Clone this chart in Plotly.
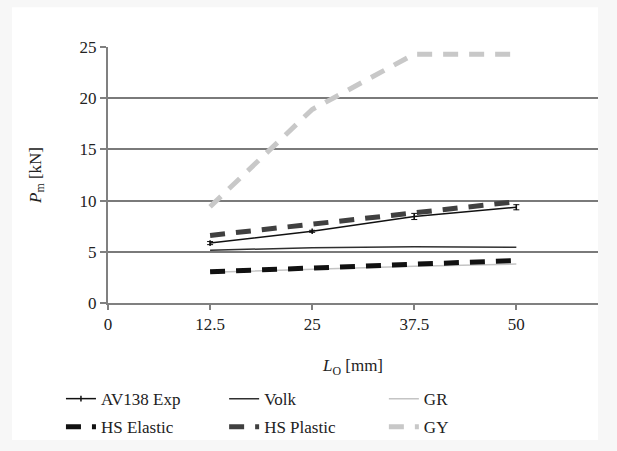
import plotly.graph_objects as go

lo = [12.5, 25, 37.5, 50]
av138 = [5.85, 7.0, 8.45, 9.35]
av138_err = [0.15, 0.1, 0.3, 0.25]
volk = [5.15, 5.4, 5.5, 5.45]
gr = [3.0, 3.3, 3.6, 3.8]
hs_elastic = [3.05, 3.45, 3.8, 4.15]
hs_plastic = [6.6, 7.7, 8.8, 9.9]
gy = [9.4, 18.9, 24.3, 24.3]

x_ticks = [0, 12.5, 25, 37.5, 50]
x_labels = ["0", "12.5", "25", "37.5", "50"]
y_ticks = [0, 5, 10, 15, 20, 25]

FONT = "Liberation Serif"
fig = go.Figure()

fig.add_trace(go.Scatter(x=lo, y=gy, name="GY", mode="lines",
    line=dict(color="#c8c8c8", width=5, dash="15px,11px"), legend="legend3"))
fig.add_trace(go.Scatter(x=lo, y=gr, name="GR", mode="lines",
    line=dict(color="#c4c4c4", width=1.5), legend="legend3"))
fig.add_trace(go.Scatter(x=lo, y=volk, name="Volk", mode="lines",
    line=dict(color="#303030", width=1.5), legend="legend2"))
fig.add_trace(go.Scatter(x=lo, y=hs_plastic, name="HS Plastic", mode="lines",
    line=dict(color="#404040", width=5, dash="15px,11px"), legend="legend2"))
fig.add_trace(go.Scatter(x=lo, y=hs_elastic, name="HS Elastic", mode="lines",
    line=dict(color="#111111", width=5, dash="15px,11px"), legend="legend"))
fig.add_trace(go.Scatter(x=lo, y=av138, name="AV138 Exp", mode="lines+markers",
    line=dict(color="#111111", width=1.5),
    marker=dict(symbol="line-ns", size=4, color="#111111", line=dict(width=1.5, color="#111111")),
    error_y=dict(type="data", array=av138_err, visible=True, color="#111111", thickness=1, width=3),
    legend="legend"))

order = {"AV138 Exp": 1, "HS Elastic": 2, "Volk": 1, "HS Plastic": 2, "GR": 1, "GY": 2}
for tr in fig.data:
    tr.legendrank = order[tr.name]
    tr.legendgroup = tr.name

legend_common = dict(orientation="v", font=dict(family=FONT, size=17, color="#222"),
                     bgcolor="rgba(0,0,0,0)", xanchor="left", yanchor="top",
                     tracegroupgap=3, itemwidth=30, y=-0.305, yref="paper")
fig.update_layout(
    legend=dict(x=-0.096, **legend_common),
    legend2=dict(x=0.237, **legend_common),
    legend3=dict(x=0.563, **legend_common),
)

fig.update_layout(
    width=617, height=451,
    margin=dict(l=108, r=19, t=47, b=148, autoexpand=False),
    paper_bgcolor="#f7f7f7",
    plot_bgcolor="white",
    font=dict(family=FONT, size=17, color="#222"),
    showlegend=True,
    shapes=[dict(type="rect", xref="paper", yref="paper", x0=-0.196, x1=1.0,
                 y0=-0.535, y1=1.155, fillcolor="white", line=dict(width=0), layer="below")],
)
fig.update_xaxes(range=[0, 60], tickvals=x_ticks, ticktext=x_labels,
                 showgrid=False, zeroline=False, showline=True, linecolor="#808080", linewidth=2,
                 ticks="outside", ticklen=5, tickcolor="#808080", tickwidth=1.5,
                 title=dict(text="<i>L</i><sub>O</sub> [mm]", standoff=26,
                            font=dict(family=FONT, size=17)))
fig.update_yaxes(range=[0, 25], tickvals=y_ticks,
                 showgrid=True, gridcolor="#7a7a7a", gridwidth=1.5, zeroline=False,
                 showline=True, linecolor="#808080", linewidth=2,
                 ticks="outside", ticklen=6, tickcolor="#808080", tickwidth=1.5,
                 title=dict(text="<i>P</i><sub>m</sub> [kN]", standoff=34,
                            font=dict(family=FONT, size=17)))

fig.write_html("out.html", config={"displayModeBar": False},
               post_script="document.body.style.margin='0';")
